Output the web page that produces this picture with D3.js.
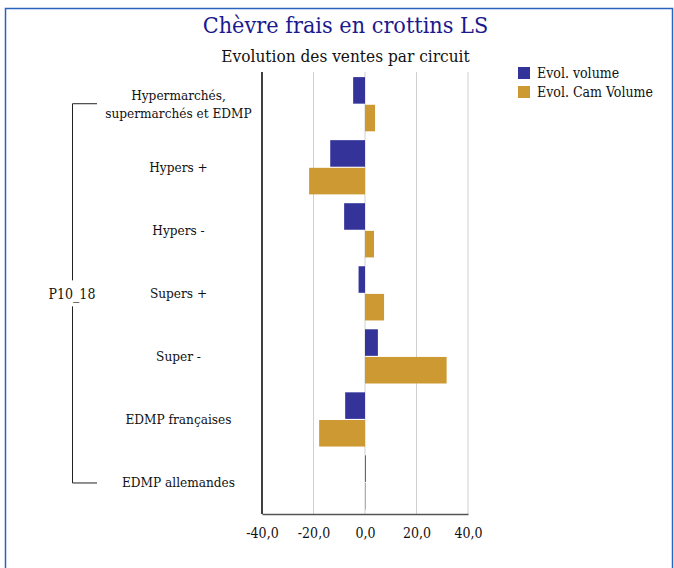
<!DOCTYPE html>
<html><head><meta charset="utf-8">
<script src="https://cdn.jsdelivr.net/npm/d3@7"></script>
<style>body{margin:0;background:#fff}svg{display:block}text{font-family:"DejaVu Serif Condensed","DejaVu Serif",serif}</style>
</head><body><svg id="c" width="674" height="568"></svg>
<script>
const categories = [["Hypermarchés,","supermarchés et EDMP"],["Hypers +"],["Hypers -"],["Supers +"],["Super -"],["EDMP françaises"],["EDMP allemandes"]];
const evolVolume = [-4.6, -13.5, -8.1, -2.5, 5.0, -7.7, 0.3];
const evolCamVolume = [3.9, -21.7, 3.5, 7.4, 31.7, -17.8, 0.3];
const seriesNames = ["Evol. volume", "Evol. Cam Volume"];
const seriesColors = ["#333399", "#cc9933"];
const xTicks = [-40, -20, 0, 20, 40];
const groupLabel = "P10_18";
const title = "Chèvre frais en crottins LS";
const subtitle = "Evolution des ventes par circuit";

const svg = d3.select("#c");
// frame
svg.append("path").attr("d","M5.5,568 V8.5 H672.5 V568").attr("fill","none").attr("stroke","#2a62c0").attr("stroke-width",1.5);

svg.append("text").attr("x",345.5).attr("y",33).attr("text-anchor","middle").attr("font-size",23.2).attr("fill","#1a1a8c").text(title);
svg.append("text").attr("x",345.5).attr("y",62).attr("text-anchor","middle").attr("font-size",17.1).attr("fill","#111").text(subtitle);

const x = d3.scaleLinear().domain([-40,40]).range([262,468]);
const idx = d3.range(categories.length);
const y = d3.scaleBand().domain(idx).range([72.7,514]).paddingInner(0.14).paddingOuter(0.07);
const y1 = d3.scaleBand().domain([0,1]).range([0,y.bandwidth()]).paddingInner(0.04);

// gridlines
svg.append("g").selectAll("line").data(xTicks.slice(1)).join("line")
  .attr("x1",d=>x(d)).attr("x2",d=>x(d)).attr("y1",72).attr("y2",514)
  .attr("stroke","#d0d0d0").attr("stroke-width",1);

const series = [evolVolume, evolCamVolume];
series.forEach((vals,s)=>{
  svg.append("g").selectAll("rect").data(vals).join("rect")
    .attr("x",d=>x(Math.min(0,d)))
    .attr("width",d=>Math.abs(x(d)-x(0)))
    .attr("y",(d,i)=>y(i)+y1(s))
    .attr("height",y1.bandwidth())
    .attr("fill",seriesColors[s]);
});

// axes
const xAxis = d3.axisBottom(x).tickValues(xTicks).tickSize(0).tickPadding(14)
  .tickFormat(d=>d3.format(".1f")(d).replace(".",",").replace("−","-"));
const gx = svg.append("g").attr("transform","translate(0,514)").call(xAxis);
gx.select(".domain").attr("stroke","#555").attr("stroke-width",1.5);
gx.selectAll("text").attr("font-size",14).attr("fill","#111").attr("font-family","DejaVu Serif Condensed, DejaVu Serif, serif");
svg.append("line").attr("x1",262).attr("x2",262).attr("y1",72).attr("y2",514).attr("stroke","#000").attr("stroke-width",1.5);

// category labels
const cl = svg.append("g");
categories.forEach((lines,i)=>{
  const cy = y(i)+y.bandwidth()/2;
  const t = cl.append("text").attr("text-anchor","middle").attr("font-size",13.5).attr("fill","#111");
  lines.forEach((ln,k)=>{
    t.append("tspan").attr("x",178.5).attr("y",cy+4.5+(k-(lines.length-1)/2)*18).text(ln);
  });
});

// bracket
const yTop = y(0)+y.bandwidth()/2, yBot = y(categories.length-1)+y.bandwidth()/2, yMid=(yTop+yBot)/2+1;
svg.append("path").attr("d",`M97,${yTop-0.5} H72.5 V${yMid-14} M72.5,${yMid+12} V${yBot+0.5} H97`)
  .attr("fill","none").attr("stroke","#222").attr("stroke-width",1);
svg.append("text").attr("x",72).attr("y",yMid+4.5).attr("text-anchor","middle").attr("font-size",14).attr("fill","#111").text(groupLabel);

// legend
const lg = svg.append("g");
seriesNames.forEach((n,i)=>{
  lg.append("rect").attr("x",518).attr("y",67+i*19).attr("width",12).attr("height",12).attr("fill",seriesColors[i]);
  lg.append("text").attr("x",537).attr("y",77.5+i*19).attr("font-size",14).attr("fill","#111").text(n);
});
</script></body></html>
